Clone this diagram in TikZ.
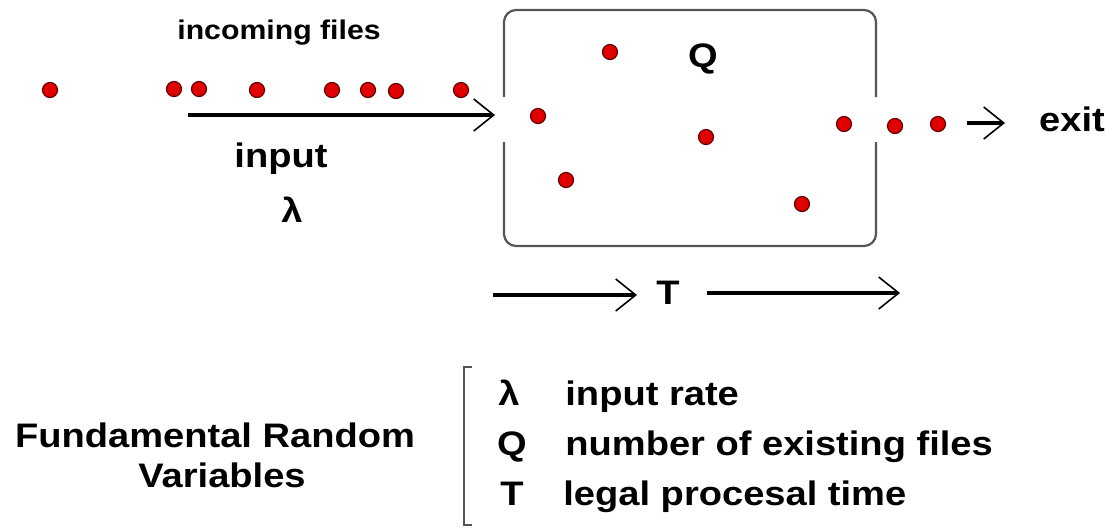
\documentclass[tikz,border=0pt]{standalone}
\usepackage{fontspec}
\setmainfont{Liberation Sans}[FakeStretch=1.12]
\usetikzlibrary{arrows.meta}

\definecolor{filered}{RGB}{225,0,0}
\definecolor{fileedge}{RGB}{100,0,0}
\definecolor{boxgray}{RGB}{85,85,85}

\begin{document}
\begin{tikzpicture}[x=0.5pt, y=-0.5pt, >={Straight Barb[length=10pt, width=16pt, line width=0.8pt]},
    every node/.style={inner sep=0pt},
    file/.style={circle, draw=fileedge, fill=filered, line width=0.6pt, minimum size=7.5pt},
    flow/.style={->, line width=2.4pt},
    big/.style={font=\fontsize{17}{20}\selectfont\bfseries},
    small/.style={font=\fontsize{13.5}{16}\selectfont\bfseries}]
    \useasboundingbox (0,0) rectangle (1116,527);

    % files waiting outside
    \node[file] (w1) at (50,90) {};
    \node[file] (w2) at (174,89) {};
    \node[file] (w3) at (199,89) {};
    \node[file] (w4) at (257,90) {};
    \node[file] (w5) at (332,90) {};
    \node[file] (w6) at (368,90) {};
    \node[file] (w7) at (396,91) {};
    \node[file] (w8) at (461,90) {};
    \node[small] (incoming) at (279,33) {incoming files};

    % the queue
    \draw[boxgray, line width=1.1pt, rounded corners=6pt] (504,97) -- (504,10) -- (876,10) -- (876,97);
    \draw[boxgray, line width=1.1pt, rounded corners=6pt] (504,142) -- (504,246) -- (876,246) -- (876,142);
    \node[big, anchor=base] (Q) at (703,67) {Q};
    \node[file] (q1) at (610,52) {};
    \node[file] (q2) at (538,116) {};
    \node[file] (q3) at (566,180) {};
    \node[file] (q4) at (706,137) {};
    \node[file] (q5) at (802,204) {};

    % files leaving
    \node[file] (x1) at (844,124) {};
    \node[file] (x2) at (895,126) {};
    \node[file] (x3) at (938,124) {};
    \coordinate (exitA) at (967,123);
    \coordinate (exitB) at (1005,123);
    \draw[flow] (exitA) -- (exitB);
    \node[big, anchor=base] (exit) at (1072,131) {exit};

    % input
    \coordinate (inA) at (188,115);
    \coordinate (inB) at (495,115);
    \draw[flow] (inA) -- (inB);
    \node[big, anchor=base] (input) at (281,167) {input};
    \node[big, anchor=base] (lambda) at (292,222) {λ};

    % time in the system
    \coordinate (tA) at (493,295);
    \coordinate (tB) at (637,295);
    \coordinate (tC) at (707,293);
    \coordinate (tD) at (900,293);
    \draw[flow] (tA) -- (tB);
    \draw[flow] (tC) -- (tD);
    \node[big, anchor=base] (T) at (668,304) {T};

    % legend
    \node[big, anchor=base] (frv1) at (215,447) {Fundamental Random};
    \node[big, anchor=base] (frv2) at (222,487) {Variables};
    \draw[boxgray, line width=0.8pt] (472,367) -- (464,367) -- (464,525) -- (472,525);
    \node[big, anchor=base] (symL) at (509,405) {λ};
    \node[big, anchor=base] (symQ) at (512,455) {Q};
    \node[big, anchor=base] (symT) at (512,505) {T};
    \node[big, anchor=base west] (txtL) at (565,405) {input rate};
    \node[big, anchor=base west] (txtQ) at (565,455) {number of existing files};
    \node[big, anchor=base west] (txtT) at (563,505) {legal procesal time};
\end{tikzpicture}
\end{document}
